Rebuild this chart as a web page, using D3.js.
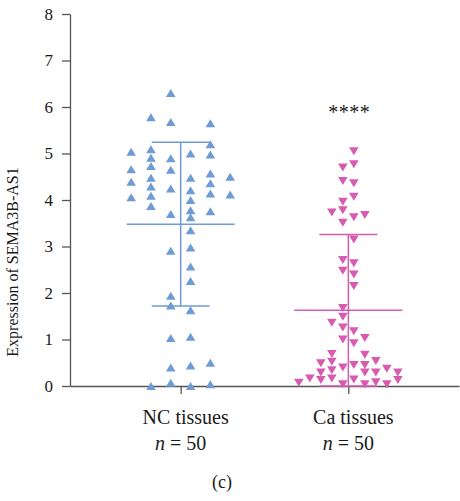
<!DOCTYPE html>
<html>
<head>
<meta charset="utf-8">
<script src="https://cdn.jsdelivr.net/npm/d3@7"></script>
<style>
  html, body { margin: 0; padding: 0; background: #fff; }
  svg { display: block; }
  text { font-family: "Liberation Serif", "DejaVu Serif", serif; fill: #1a1a1a; }
</style>
</head>
<body>
<svg id="chart" width="460" height="501"></svg>
<script>
// ---- data ----
const categories = ["NC tissues", "Ca tissues"];
const sampleSizes = ["n = 50", "n = 50"];
const yTicks = [0, 1, 2, 3, 4, 5, 6, 7, 8];
const yTitle = "Expression of SEMA3B-AS1";
const significance = "****";
const panelLabel = "(c)";

const ncValues = [6.30, 5.78, 5.68, 5.65, 5.04, 5.09, 5.20, 4.91, 4.90, 5.00,
                  4.98, 4.66, 4.73, 4.65, 4.39, 4.48, 4.48, 4.57, 4.50, 4.29,
                  4.25, 4.21, 4.36, 4.06, 4.09, 4.00, 4.14, 4.12, 3.87, 3.70,
                  3.78, 3.63, 3.76, 3.35, 2.91, 2.98, 2.57, 2.26, 1.94, 1.73,
                  1.63, 1.03, 1.06, 0.40, 0.44, 0.50, 0.00, 0.07, 0.00, 0.04];
const ncColumn = [-0.5, -1.5, -0.5, 1.5, -2.5, -1.5, 1.5, -1.5, -0.5, 0.5,
                  1.5, -2.5, -1.5, -0.5, -2.5, -1.5, 0.5, 1.5, 2.5, -1.5,
                  -0.5, 0.5, 1.5, -2.5, -1.5, 0.5, 1.5, 2.5, -1.5, -0.5,
                  0.5, 0.5, 1.5, 0.5, -0.5, 0.5, 0.5, 0.5, -0.5, -0.5,
                  0.5, -0.5, 0.5, -0.5, 0.5, 1.5, -1.5, -0.5, 0.5, 1.5];

const caValues = [5.05, 4.70, 4.77, 4.41, 4.36, 4.07, 3.96, 3.73, 3.78, 3.63,
                  3.68, 3.51, 3.15, 2.71, 2.64, 2.48, 2.40, 2.15, 1.68, 1.49,
                  1.36, 1.26, 1.18, 1.03, 1.00, 0.92, 0.69, 0.67, 0.49, 0.52,
                  0.40, 0.45, 0.45, 0.54, 0.29, 0.34, 0.29, 0.29, 0.37, 0.29,
                  0.07, 0.16, 0.13, 0.16, 0.04, 0.14, 0.04, 0.08, 0.04, 0.13];
const caColumn = [0.5, -0.5, 0.5, -0.5, 0.5, 0.5, -0.5, -1.5, -0.5, 0.5,
                  1.5, -0.5, 0.5, -0.5, 0.5, -0.5, 0.5, 0.5, -0.5, -0.5,
                  -1.5, -0.5, 0.5, 1.5, -0.5, 0.5, -1.5, 1.5, -2.5, -1.5,
                  -0.5, 0.5, 1.5, 2.5, -2.5, -1.5, 1.5, 2.5, 3.5, 4.5,
                  -4.5, -3.5, -2.5, -1.5, -0.5, 0.5, 1.5, 2.5, 3.5, 4.5];

const groupMeans = [3.48, 1.63];
const groupSDs = [1.76, 1.63];

// ---- layout ----
const svg = d3.select("#chart");
const plotLeft = 70, plotRight = 459, plotTop = 14, plotBottom = 386;
const colors = ["#6f9bd6", "#d75cb0"];
const columnSpacing = [19.8, 11];
const axisColor = "#555";

const y = d3.scaleLinear().domain([0, 8]).range([plotBottom, plotTop]);
const x = d3.scalePoint().domain(categories).range([plotLeft, plotRight]).padding(0.66);

// y axis
const yAxis = svg.append("g")
  .attr("transform", `translate(${plotLeft},0)`)
  .call(d3.axisLeft(y).tickValues(yTicks).tickFormat(d3.format("d")).tickSize(8).tickSizeOuter(0).tickPadding(9));
yAxis.select(".domain").attr("stroke", axisColor).attr("stroke-width", 1.3);
yAxis.selectAll(".tick line").attr("stroke", axisColor).attr("stroke-width", 1.3);
yAxis.selectAll(".tick text").attr("font-size", 17).attr("font-family", "Liberation Serif, serif").attr("fill", "#1a1a1a");

// x axis
const xAxis = svg.append("g")
  .attr("transform", `translate(0,${plotBottom})`)
  .call(d3.axisBottom(x).tickSize(8).tickSizeOuter(0).tickFormat(""));
xAxis.select(".domain").attr("stroke", axisColor).attr("stroke-width", 1.3);
xAxis.selectAll(".tick line").attr("stroke", axisColor).attr("stroke-width", 1.3);

// x labels
categories.forEach((c, i) => {
  svg.append("text").attr("x", x(c) + 5).attr("y", 424)
    .attr("text-anchor", "middle").attr("font-size", 20).text(c);
  const n = svg.append("text").attr("x", x(c)).attr("y", 450)
    .attr("text-anchor", "middle").attr("font-size", 20);
  const parts = sampleSizes[i].split(" ");
  n.append("tspan").attr("font-style", "italic").text(parts[0]);
  n.append("tspan").text(" " + parts.slice(1).join(" "));
});

// y title
svg.append("text")
  .attr("transform", `translate(18,${(plotTop + plotBottom) / 2 + 62}) rotate(-90)`)
  .attr("text-anchor", "middle").attr("font-size", 16).text(yTitle);

// panel label
svg.append("text").attr("x", 222).attr("y", 488).attr("text-anchor", "middle")
  .attr("font-size", 18).text(panelLabel);

// significance
svg.append("text").attr("x", x(categories[1]) + 1).attr("y", 119).attr("text-anchor", "middle")
  .attr("font-size", 20).attr("fill", "#333").attr("letter-spacing", 0.5).text(significance);

// mean / SD lines
const meanHalf = 54, capHalf = 29;
categories.forEach((c, i) => {
  const cx = x(c);
  const g = svg.append("g").attr("stroke", colors[i]).attr("stroke-width", 1.5);
  const m = groupMeans[i], s = groupSDs[i];
  g.append("line").attr("x1", cx).attr("x2", cx).attr("y1", y(m + s)).attr("y2", y(m - s));
  g.append("line").attr("x1", cx - meanHalf).attr("x2", cx + meanHalf).attr("y1", y(m)).attr("y2", y(m));
  g.append("line").attr("x1", cx - capHalf).attr("x2", cx + capHalf).attr("y1", y(m + s)).attr("y2", y(m + s));
  g.append("line").attr("x1", cx - capHalf).attr("x2", cx + capHalf).attr("y1", y(m - s)).attr("y2", y(m - s));
});

// points
const up = "M0,-4L4.8,4L-4.8,4Z";
const down = "M-4.8,-4L4.8,-4L0,4Z";
const groups = [
  { values: ncValues, cols: ncColumn, shape: up },
  { values: caValues, cols: caColumn, shape: down }
];
groups.forEach((gd, i) => {
  const cx = x(categories[i]);
  svg.append("g").selectAll("path")
    .data(gd.values.map((v, k) => ({ v, c: gd.cols[k] })))
    .join("path")
    .attr("d", gd.shape)
    .attr("fill", colors[i])
    .attr("transform", d => `translate(${cx + d.c * columnSpacing[i]},${y(d.v)})`);
});
</script>
</body>
</html>
